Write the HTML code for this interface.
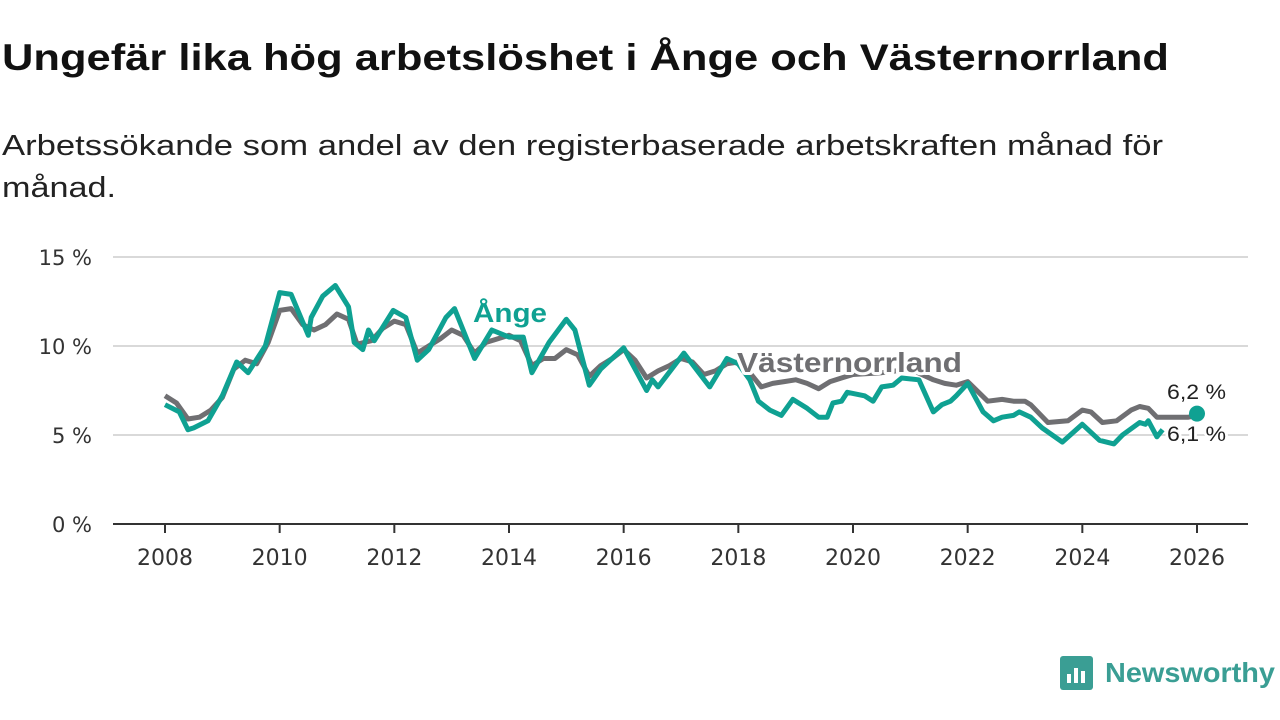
<!DOCTYPE html>
<html><head><meta charset="utf-8"><style>
body{margin:0;background:#fff;width:1280px;height:720px;overflow:hidden;font-family:"Liberation Sans",sans-serif}
</style></head><body>
<svg width="1280" height="720" style="position:absolute;left:0;top:0">
<text x="2" y="70" font-size="37" font-weight="bold" fill="#111" textLength="1167" lengthAdjust="spacingAndGlyphs">Ungefär lika hög arbetslöshet i Ånge och Västernorrland</text>
<text x="2" y="155" font-size="29" fill="#222" textLength="1161" lengthAdjust="spacingAndGlyphs">Arbetssökande som andel av den registerbaserade arbetskraften månad för</text>
<text x="2" y="197" font-size="29" fill="#222" textLength="114" lengthAdjust="spacingAndGlyphs">månad.</text>
<g id="grid"></g><g id="lines"></g><g id="labels"></g>
<g>
<rect x="1060" y="656" width="33" height="34" rx="3" fill="#3a9e94"/>
<rect x="1067" y="674" width="4" height="9" fill="#fff"/><rect x="1074" y="668" width="4" height="15" fill="#fff"/><rect x="1081" y="671" width="4" height="12" fill="#fff"/>
<text x="1105" y="682" font-size="28" font-weight="bold" fill="#3a9e94" textLength="170" lengthAdjust="spacingAndGlyphs">Newsworthy</text>
</g>
</svg>
<script>
const yTicks=[0,5,10,15];
const xTicks=[2008,2010,2012,2014,2016,2018,2020,2022,2024,2026];
const angeYears=[2008,2008.25,2008.4,2008.5,2008.75,2009,2009.25,2009.45,2009.75,2010,2010.2,2010.5,2010.55,2010.75,2010.97,2011.2,2011.3,2011.45,2011.55,2011.65,2011.98,2012.2,2012.4,2012.6,2012.9,2013.05,2013.4,2013.7,2014.0,2014.25,2014.4,2014.7,2015.0,2015.15,2015.4,2015.6,2016.0,2016.4,2016.5,2016.6,2017.05,2017.5,2017.8,2018.0,2018.2,2018.35,2018.55,2018.75,2018.95,2019.2,2019.4,2019.55,2019.65,2019.8,2019.9,2020.2,2020.35,2020.5,2020.7,2020.85,2021.15,2021.4,2021.55,2021.7,2021.8,2022.0,2022.27,2022.45,2022.6,2022.8,2022.9,2023.1,2023.3,2023.65,2024.0,2024.3,2024.55,2024.7,2025.0,2025.1,2025.15,2025.3,2025.4,2025.6,2026];
const angeValues=[6.7,6.3,5.3,5.4,5.8,7.2,9.1,8.5,10.0,13.0,12.9,10.6,11.6,12.8,13.4,12.2,10.2,9.8,10.9,10.3,12.0,11.6,9.2,9.8,11.6,12.1,9.3,10.9,10.5,10.5,8.5,10.2,11.5,10.9,7.8,8.7,9.9,7.5,8.1,7.7,9.6,7.7,9.3,9.0,8.1,6.9,6.4,6.1,7.0,6.5,6.0,6.0,6.8,6.9,7.4,7.2,6.9,7.7,7.8,8.2,8.1,6.3,6.7,6.9,7.2,7.9,6.3,5.8,6.0,6.1,6.3,6.0,5.4,4.6,5.6,4.7,4.5,5.0,5.7,5.6,5.8,4.9,5.3,null,6.2];
const vnYears=[2008,2008.2,2008.4,2008.6,2008.8,2009,2009.2,2009.4,2009.6,2009.8,2010,2010.2,2010.4,2010.6,2010.8,2011,2011.2,2011.35,2011.6,2011.8,2012,2012.2,2012.4,2012.6,2012.8,2013,2013.2,2013.4,2013.6,2013.8,2014,2014.2,2014.4,2014.6,2014.8,2015,2015.2,2015.4,2015.6,2015.8,2016,2016.2,2016.4,2016.6,2016.8,2017,2017.2,2017.4,2017.6,2017.8,2018,2018.2,2018.4,2018.6,2018.8,2019,2019.2,2019.4,2019.6,2019.8,2020,2020.5,2021,2021.2,2021.4,2021.6,2021.8,2022,2022.35,2022.6,2022.8,2023,2023.1,2023.4,2023.75,2024,2024.15,2024.35,2024.6,2024.85,2025,2025.15,2025.3,2025.5,2025.85,2026];
const vnValues=[7.2,6.8,5.9,6.0,6.4,7.1,8.7,9.2,9.0,10.2,12.0,12.1,11.2,10.9,11.2,11.8,11.5,10.1,10.3,11.0,11.4,11.2,9.6,10.0,10.4,10.9,10.6,9.6,10.2,10.4,10.6,10.3,8.9,9.3,9.3,9.8,9.5,8.3,8.9,9.3,9.8,9.2,8.2,8.6,8.9,9.3,9.1,8.4,8.6,9.0,9.1,8.5,7.7,7.9,8.0,8.1,7.9,7.6,8.0,8.2,8.4,8.5,8.7,8.4,8.1,7.9,7.8,8.0,6.9,7.0,6.9,6.9,6.7,5.7,5.8,6.4,6.3,5.7,5.8,6.4,6.6,6.5,6.0,6.0,6.0,6.1];
const NS="http://www.w3.org/2000/svg";
const X=y=>165+(y-2008)*(1197-165)/18;
const Y=v=>524-v*17.8;
const TF='"DejaVu Sans",sans-serif';
function mk(t,a,p){const e=document.createElementNS(NS,t);for(const k in a)e.setAttribute(k,a[k]);if(p)p.appendChild(e);return e;}
const grid=document.getElementById('grid'),lines=document.getElementById('lines'),labels=document.getElementById('labels');
yTicks.forEach(v=>{
 if(v>0){const l=mk('line',{x1:113,x2:1248,y1:Y(v),y2:Y(v),stroke:'#d9d9d9','stroke-width':2},grid);
 
 }
 const t=mk('text',{x:92,y:Y(v)+8,'text-anchor':'end','font-size':21,'font-family':TF,fill:'#333'},grid);t.textContent=v+' %';
 
 
});
const ax=mk('line',{x1:113,x2:1248,y1:524,y2:524,stroke:'#333','stroke-width':2},grid);


xTicks.forEach(y=>{
 mk('line',{x1:X(y),x2:X(y),y1:524,y2:533,stroke:'#333','stroke-width':2},grid);
 const t=mk('text',{x:X(y),y:565,'text-anchor':'middle','font-size':22,'font-family':TF,fill:'#333'},grid);t.textContent=y;
 
 
});
function path(xs,vs){let d='',pen=false;xs.forEach((x,i)=>{const v=vs[i];if(v==null){pen=false;return;}d+=(pen?'L':'M')+X(x).toFixed(1)+' '+Y(v).toFixed(1);pen=true;});return d;}
const pv=mk('path',{d:path(vnYears,vnValues),fill:'none',stroke:'#6f6f72','stroke-width':5,'stroke-linejoin':'round'},lines);


const pa=mk('path',{d:path(angeYears,angeValues),fill:'none',stroke:'#0fa192','stroke-width':5,'stroke-linejoin':'round'},lines);


const li=angeYears.length-1;
const dot=mk('circle',{cx:X(angeYears[li]),cy:Y(angeValues[li]),r:8,fill:'#0fa192'},lines);


function lab(txt,x,y,size,fill,bold,name,len){const a={x:x,y:y,'font-size':size,fill:fill,'font-weight':bold?'bold':'normal',stroke:'#fff','stroke-width':bold?6:5,'paint-order':'stroke','stroke-linejoin':'round'};
 if(len){a.textLength=len;a.lengthAdjust='spacingAndGlyphs';}
 const t=mk('text',a,labels);t.textContent=txt;
 
 }
lab('Ånge',473,322,27,'#0fa192',true,'ange-label',74);
lab('Västernorrland',737,372,28,'#6f6f72',true,'vasternorrland-label',225);
lab('6,2 %',1167,399,21,'#222',false,'ange-end-value',59);
lab('6,1 %',1167,441,21,'#222',false,'vasternorrland-end-value',59);
</script>
</body></html>
